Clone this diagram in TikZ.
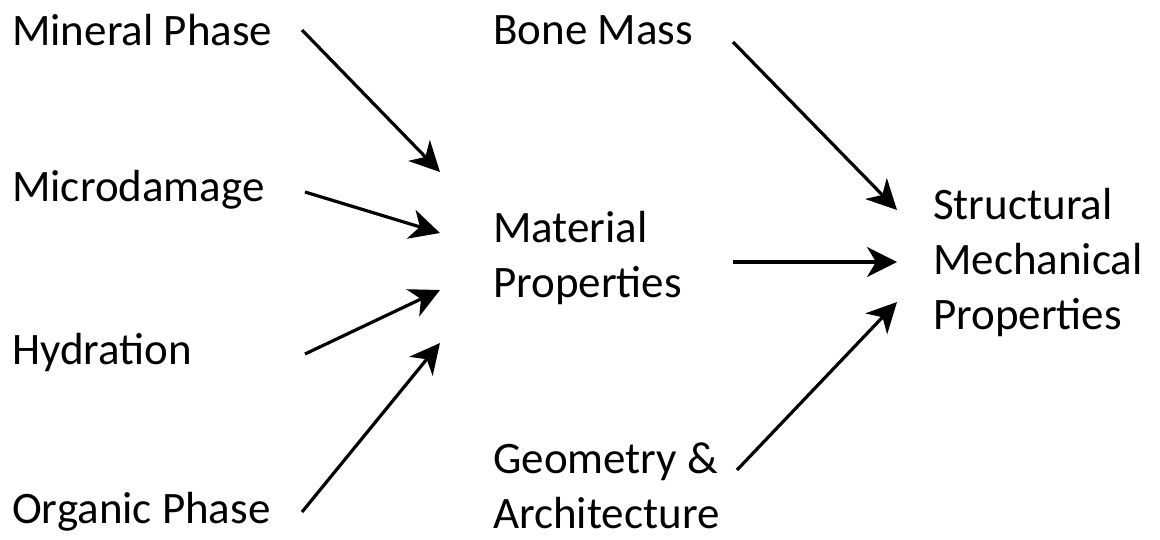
\documentclass[tikz,border=0pt]{standalone}
\usepackage{fontspec}
\setmainfont{Carlito}
\usetikzlibrary{arrows.meta}
\begin{document}
\begin{tikzpicture}[x=1pt,y=1pt,
  lbl/.style={anchor=west,inner sep=0pt,align=left,font=\fontsize{45}{55}\selectfont},
  arr/.style={line width=3.2pt,-{Stealth[length=30pt,width=30pt,inset=9pt]}}]
\useasboundingbox (0,0) rectangle (1160,-539);
\node[lbl] (mineral) at (12,-30) {Mineral Phase};
\node[lbl] (micro) at (12,-190) {Microdamage};
\node[lbl] (hydr) at (12,-352) {Hydration};
\node[lbl] (organic) at (12,-512) {Organic Phase};
\node[lbl] (bone) at (493,-30) {Bone Mass};
\node[lbl] (material) at (493,-258) {Material\\Properties};
\node[lbl] (geom) at (493,-486) {Geometry \&\\Architecture};
\node[lbl] (struct) at (933,-262) {Structural\\Mechanical\\Properties};
\coordinate (s1) at (302,-30);  \coordinate (e1) at (440,-172);
\coordinate (s2) at (305,-192); \coordinate (e2) at (440,-233);
\coordinate (s3) at (305,-354); \coordinate (e3) at (440,-290);
\coordinate (s4) at (302,-512); \coordinate (e4) at (440,-343);
\coordinate (s5) at (733,-42);  \coordinate (e5) at (897,-210);
\coordinate (s6) at (733,-262); \coordinate (e6) at (897,-262);
\coordinate (s7) at (737,-470); \coordinate (e7) at (897,-302);
\draw[arr] (s1) -- (e1);
\draw[arr] (s2) -- (e2);
\draw[arr] (s3) -- (e3);
\draw[arr] (s4) -- (e4);
\draw[arr] (s5) -- (e5);
\draw[arr] (s6) -- (e6);
\draw[arr] (s7) -- (e7);
\end{tikzpicture}
\end{document}
